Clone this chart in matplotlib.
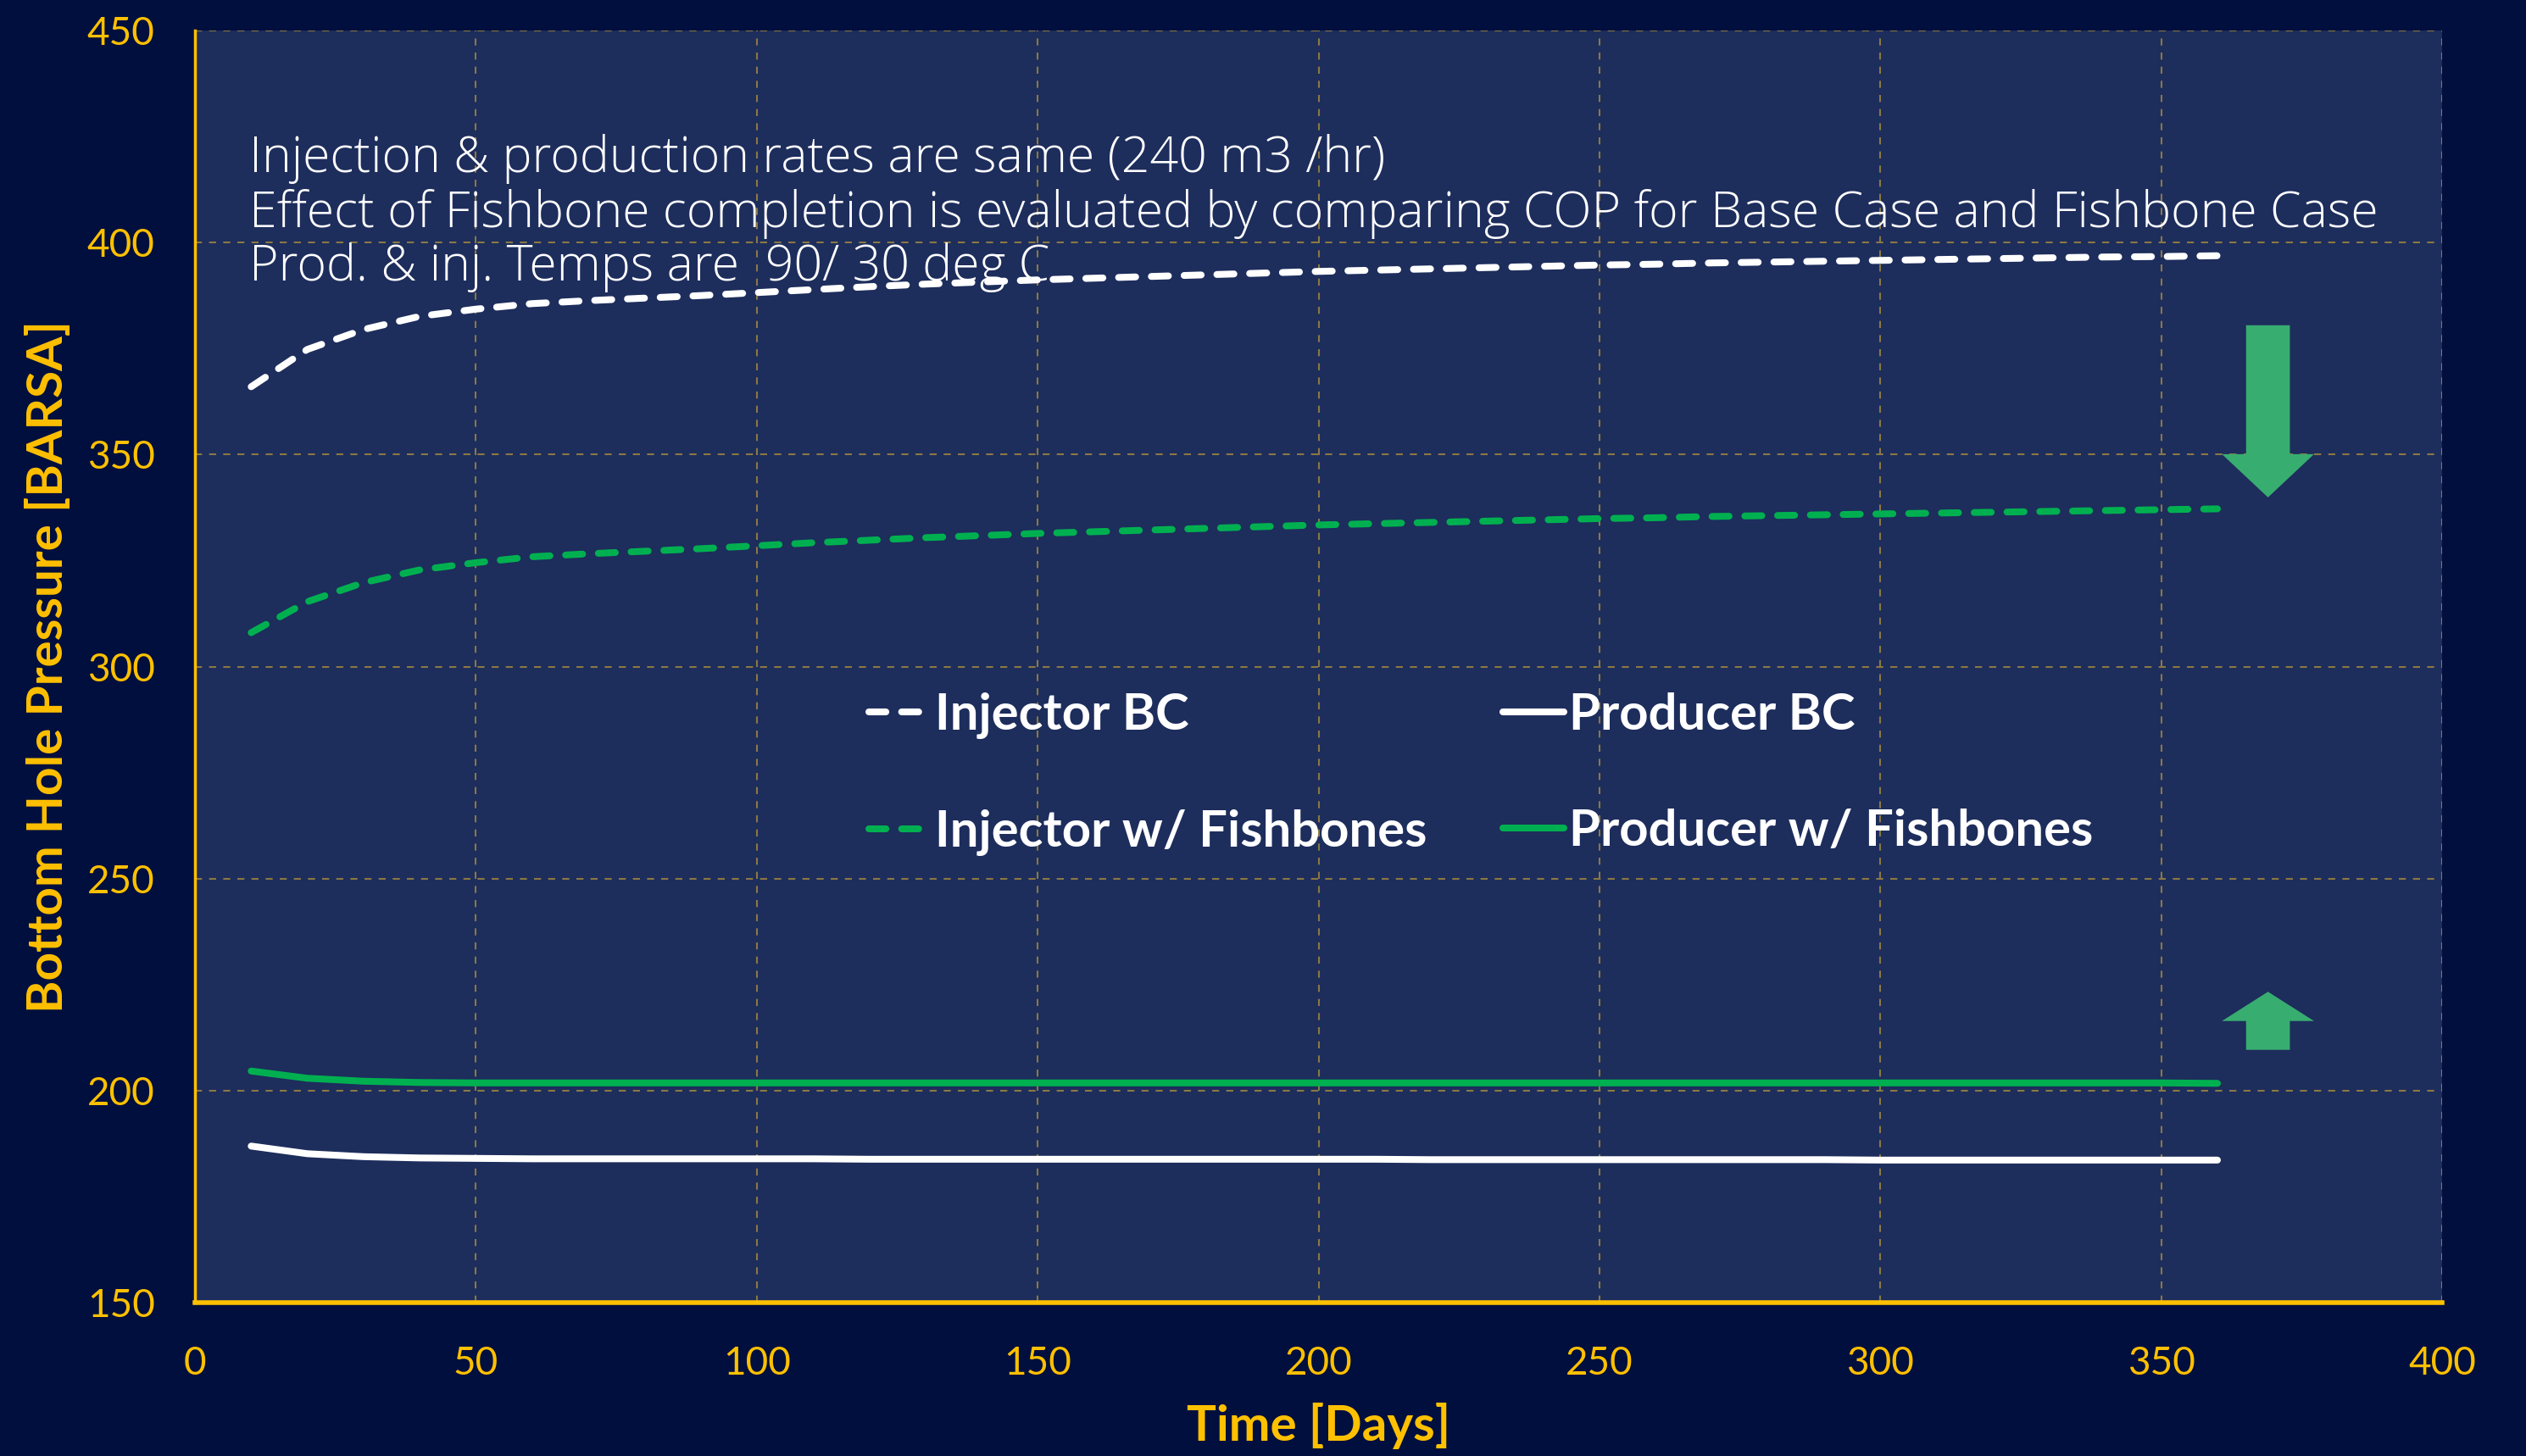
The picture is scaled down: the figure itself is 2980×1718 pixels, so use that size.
import matplotlib
matplotlib.use("Agg")
import matplotlib.pyplot as plt
from matplotlib.patches import FancyArrow

# data
days = [10, 20, 30, 40, 50, 60, 70, 80, 90, 100, 110, 120, 130, 140, 150, 160, 170, 180,
        190, 200, 210, 220, 230, 240, 250, 260, 270, 280, 290, 300, 310, 320, 330, 340, 350, 360]
inj_bc = [366.0, 374.8, 379.5, 382.6, 384.3, 385.6, 386.3, 386.9, 387.5, 388.2, 388.9, 389.6,
          390.2, 390.7, 391.2, 391.6, 392.0, 392.4, 392.8, 393.2, 393.5, 393.8, 394.1, 394.4,
          394.7, 394.9, 395.2, 395.4, 395.6, 395.8, 396.0, 396.2, 396.4, 396.6, 396.7, 396.9]
inj_fb = [308.0, 315.3, 319.8, 322.8, 324.5, 325.9, 326.6, 327.2, 327.8, 328.5, 329.2, 329.8,
          330.4, 330.9, 331.4, 331.8, 332.2, 332.6, 333.0, 333.4, 333.7, 334.0, 334.3, 334.6,
          334.9, 335.1, 335.4, 335.6, 335.8, 336.0, 336.2, 336.4, 336.6, 336.8, 337.0, 337.2]
prod_bc = [186.9, 185.1, 184.4, 184.1, 184.0, 183.9, 183.9, 183.9, 183.9, 183.9, 183.9, 183.8,
           183.8, 183.8, 183.8, 183.8, 183.8, 183.8, 183.8, 183.8, 183.8, 183.7, 183.7, 183.7,
           183.7, 183.7, 183.7, 183.7, 183.7, 183.6, 183.6, 183.6, 183.6, 183.6, 183.6, 183.6]
prod_fb = [204.6, 202.9, 202.2, 201.9, 201.8, 201.8, 201.8, 201.8, 201.8, 201.8, 201.8, 201.8,
           201.8, 201.8, 201.8, 201.8, 201.8, 201.8, 201.8, 201.8, 201.8, 201.8, 201.8, 201.8,
           201.8, 201.8, 201.8, 201.8, 201.8, 201.8, 201.8, 201.8, 201.8, 201.8, 201.8, 201.7]

labels = ["Injector BC", "Injector w/ Fishbones", "Producer BC", "Producer w/ Fishbones"]
notes = ["Injection & production rates are same (240 m3 /hr)",
         "Effect of Fishbone completion is evaluated by comparing COP for Base Case and Fishbone Case",
         "Prod. & inj. Temps are  90/ 30 deg C"]

gold = "#ffc000"
green = "#00b050"
bg = "#000f3d"
face = "#1d2d5c"
gridc = "#8a7844"

plt.rcParams['font.family'] = ['Lato', 'DejaVu Sans']

fig = plt.figure(figsize=(29.8, 17.18), dpi=100, facecolor=bg)
ax = fig.add_axes([0.0772, 0.1054, 0.8896, 0.8736])
ax.set_facecolor(face)

lw = 5.8
ax.plot(days, inj_bc, color="white", lw=lw, dashes=(2.5, 2.3), dash_capstyle="round", label=labels[0], zorder=3)
ax.plot(days, inj_fb, color=green, lw=lw, dashes=(2.5, 2.3), dash_capstyle="round", label=labels[1], zorder=3)
ax.plot(days, prod_bc, color="white", lw=lw, solid_capstyle="round", label=labels[2], zorder=3)
ax.plot(days, prod_fb, color=green, lw=lw, solid_capstyle="round", label=labels[3], zorder=3)

# arrows
arr_c = "#38ad70"
ax.add_patch(FancyArrow(369, 380.5, 0, 339.9 - 380.5, width=7.8, head_width=16.4,
                        head_length=10.2, length_includes_head=True, color=arr_c, lw=0, zorder=3))
ax.add_patch(FancyArrow(369, 209.6, 0, 223.3 - 209.6, width=7.8, head_width=16.4,
                        head_length=6.9, length_includes_head=True, color=arr_c, lw=0, zorder=3))

ax.set_xlim(0, 400)
ax.set_ylim(150, 450)
ax.set_xticks(range(0, 401, 50))
ax.set_yticks(range(150, 451, 50))
ax.grid(True, color=gridc, ls=(0, (4, 4)), lw=1.5, zorder=0)
ax.set_axisbelow(True)

for s in ["top", "right"]:
    ax.spines[s].set_visible(False)
ax.spines["left"].set_color(gold)
ax.spines["left"].set_linewidth(2.5)
ax.spines["bottom"].set_color(gold)
ax.spines["bottom"].set_linewidth(4)

ax.tick_params(axis="both", length=0, labelsize=33, labelcolor=gold)
ax.tick_params(axis="y", pad=34)
ax.tick_params(axis="x", pad=37)

ax.set_ylabel("Bottom Hole Pressure [BARSA]", color=gold, fontsize=42, fontweight="bold", labelpad=14)
ax.set_xlabel("Time [Days]", color=gold, fontsize=42, fontweight="bold", labelpad=18)

note_y = [416.6, 403.7, 391.1]
for t, y in zip(notes, note_y):
    ax.text(9.7, y, t, color="white", fontsize=42.5, fontfamily="Open Sans", fontweight=300,
            va="baseline", ha="left", zorder=4)

leg = ax.legend(ncol=2, frameon=False, loc="upper left", bbox_to_anchor=(0.30, 0.480),
                borderpad=0, borderaxespad=0, handlelength=1.2, handletextpad=0.1,
                columnspacing=1.5, labelspacing=1.4, prop={'size': 43, 'weight': 'bold'})
for t in leg.get_texts():
    t.set_color("white")

fig.savefig("out.png", dpi=100, facecolor=bg)
